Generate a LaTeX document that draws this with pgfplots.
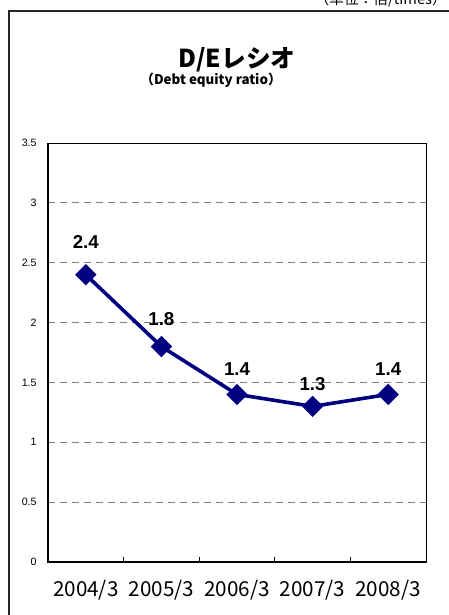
\documentclass[border=0pt]{standalone}
\usepackage{fontspec}
\setmainfont{Liberation Sans}
\newfontfamily\jp{Noto Sans CJK JP}
\usepackage{pgfplots}
\usepackage{pgfplotstable}
\pgfplotsset{compat=1.18}
\definecolor{lineblue}{RGB}{0,0,128}

% D/E ratio by fiscal year end; off = label offset above the point (pt)
\pgfplotstableread{
x y off
0 2.4 24.75
1 1.8 20.25
2 1.4 18.75
3 1.3 16.5
4 1.4 18.75
}\deratio

\begin{document}
\begin{tikzpicture}
\useasboundingbox (0,0) rectangle (336.75pt,-461.25pt);
\clip (0,0) rectangle (336.75pt,-461.25pt);
% outer frame, runs off the right and bottom
\draw[line width=0.8pt, black!85] (6.75pt,-480pt) -- (6.75pt,-8.25pt) -- (360pt,-8.25pt);
\node[anchor=base east, font=\jp\fontsize{11pt}{13pt}\selectfont, inner sep=0pt]
  at (335.25pt,-3pt) {（単位：倍/times）};
\node[font=\jp\bfseries\fontsize{18.5pt}{21pt}\selectfont, inner sep=0pt]
  at (177.75pt,-44.5pt) {D/Eレシオ};
\node[font=\jp\bfseries\fontsize{10pt}{12pt}\selectfont, inner sep=0pt]
  at (158.25pt,-60.5pt) {（Debt equity ratio）};
\begin{axis}[
    at={(36pt,-421.5pt)}, anchor=south west,
    scale only axis, width=283.5pt, height=314.25pt,
    xmin=-0.5, xmax=4.5, ymin=0, ymax=3.5,
    xtick={0,1,2,3,4},
    xticklabels={2004/3,2005/3,2006/3,2007/3,2008/3},
    ytick={0,0.5,...,3.5},
    /pgf/number format/assume math mode=true,
    major tick length=0pt,
    tick align=inside,
    xtick pos=bottom, ytick pos=left,
    extra x ticks={0.5,1.5,2.5,3.5},
    extra x tick labels={},
    extra x tick style={major tick length=3.75pt, grid=none},
    xticklabel style={font=\jp\fontsize{15.5pt}{17pt}\selectfont, anchor=center, yshift=-21pt},
    yticklabel style={font=\fontsize{8pt}{10pt}\selectfont, anchor=east, xshift=-5pt},
    ymajorgrids,
    grid style={gray, line width=0.6pt, dash pattern=on 5.25pt off 3.75pt},
    axis line style={line width=0.6pt, black},
    tick style={black, line width=0.6pt},
    clip=false,
]
\addplot[color=lineblue, line width=2.7pt,
    mark=square*, mark size=4.3pt,
    mark options={rotate=45, solid, fill=lineblue},
    visualization depends on={\thisrow{off}\as\labeloff},
    nodes near coords,
    every node near coord/.append style={anchor=center, yshift=\labeloff pt,
        text=black, font=\bfseries\fontsize{14pt}{16pt}\selectfont},
] table[x=x, y=y] {\deratio};
\draw[line width=1.6pt, black] (rel axis cs:0,1) -- (rel axis cs:0,0) -- (rel axis cs:1,0);
\end{axis}
\end{tikzpicture}
\end{document}
